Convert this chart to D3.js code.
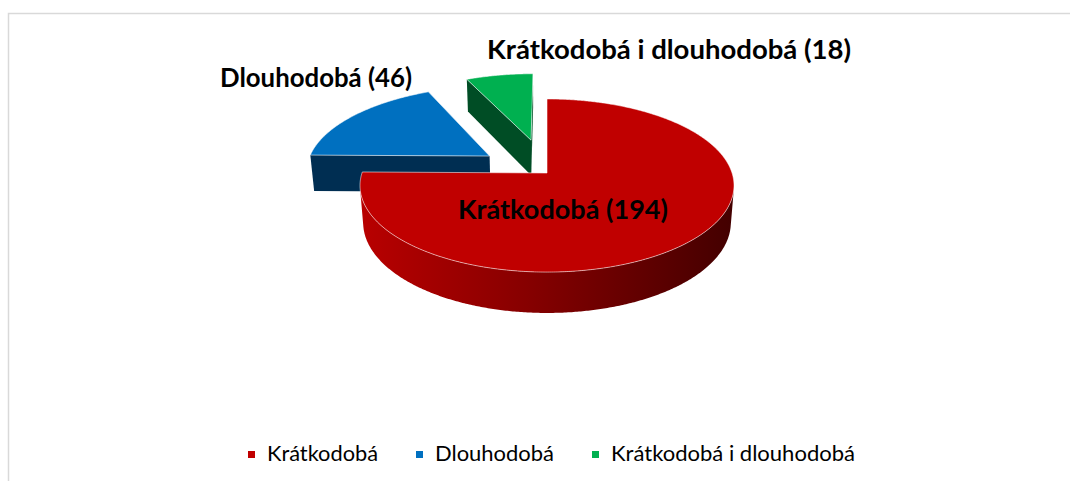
<!DOCTYPE html>
<html>
<head>
<meta charset="utf-8">
<script src="https://cdnjs.cloudflare.com/ajax/libs/d3/7.8.5/d3.min.js"></script>
<style>
  body { margin: 0; background: #fff; }
  svg { display: block; }
  .label { font-family: Lato, "Noto Sans", sans-serif; font-weight: bold; fill: #000; }
  .legend text { font-family: Lato, "Noto Sans", sans-serif; fill: #000; }
</style>
</head>
<body>
<svg id="chart"></svg>
<script>
const categories = ["Krátkodobá", "Dlouhodobá", "Krátkodobá i dlouhodobá"];
const values = [194, 46, 18];

const topColors = ["#C00000", "#0070C0", "#00B050"];
const sideColors = ["url(#redSide)", "#002E52", "#004D25"];
const explode = [0, 0.38, 0.42]; // per slice, in radius units

const W = 1070, H = 481;

let svg = d3.select("#chart").attr("width", W).attr("height", H);

// frame
svg.append("rect")
  .attr("x", 8.5).attr("y", 13.5)
  .attr("width", W + 20).attr("height", H + 20)
  .attr("fill", "none").attr("stroke", "#d9d9d9").attr("stroke-width", 1.5);

let defs = svg.append("defs");
let grad = defs.append("linearGradient").attr("id", "redSide")
  .attr("gradientUnits", "userSpaceOnUse")
  .attr("x1", 362).attr("x2", 731).attr("y1", 0).attr("y2", 0);
grad.append("stop").attr("offset", "0%").attr("stop-color", "#B80000");
grad.append("stop").attr("offset", "45%").attr("stop-color", "#860000");
grad.append("stop").attr("offset", "100%").attr("stop-color", "#440000");

// simple perspective camera looking down on the pie
const cx = 547, cy = 173;
const focal = 1138, dist = 6.15, thick = 0.227;
const sinT = 0.458, cosT = Math.sqrt(1 - sinT * sinT);
const cam = [0, dist * sinT, dist * cosT];

function project(p) {
  const depth = dist - p[1] * sinT - p[2] * cosT;
  return [cx + focal * p[0] / depth, cy - focal * (p[1] * cosT - p[2] * sinT) / depth];
}

function rim(a, t, y) { return [a.ox + Math.sin(t), y, a.oz - Math.cos(t)]; }

function sampleAngles(t0, t1) {
  const n = Math.max(2, Math.ceil(Math.abs(t1 - t0) / (Math.PI / 360)));
  return d3.range(n + 1).map(k => t0 + (t1 - t0) * k / n);
}

function facing(n, p) {
  return n[0] * (cam[0] - p[0]) + n[1] * (cam[1] - p[1]) + n[2] * (cam[2] - p[2]) > 0;
}

let line = d3.line();
let pathOf = (pts) => line(pts.map(project)) + "Z";

let pie = d3.pie().sort(null).value(d => d);
let arcs = pie(values);

arcs.forEach((a, i) => {
  const mid = (a.startAngle + a.endAngle) / 2;
  a.i = i;
  a.ox = explode[i] * Math.sin(mid);
  a.oz = -explode[i] * Math.cos(mid);
  a.z = a.oz - 0.5 * Math.cos(mid);
});

let order = arcs.slice().sort((a, b) => a.z - b.z); // back to front

let pieG = svg.append("g");

order.forEach(a => {
  let g = pieG.append("g");
  const a0 = a.startAngle, a1 = a.endAngle;
  const apexT = [a.ox, 0, a.oz], apexB = [a.ox, -thick, a.oz];

  // outer curved side, only where it faces the camera
  let runs = [], cur = null;
  sampleAngles(a0, a1).forEach(t => {
    const n = [Math.sin(t), 0, -Math.cos(t)];
    if (facing(n, rim(a, t, -thick / 2))) {
      if (!cur) { cur = []; runs.push(cur); }
      cur.push(t);
    } else cur = null;
  });
  runs.forEach(r => {
    if (r.length < 2) return;
    const pts = r.map(t => rim(a, t, 0)).concat(r.slice().reverse().map(t => rim(a, t, -thick)));
    g.append("path").attr("d", pathOf(pts)).attr("fill", sideColors[a.i]);
  });

  // radial sides
  [[a0, [-Math.cos(a0), 0, -Math.sin(a0)]], [a1, [Math.cos(a1), 0, Math.sin(a1)]]].forEach(([t, n]) => {
    const m = [a.ox + 0.5 * Math.sin(t), -thick / 2, a.oz - 0.5 * Math.cos(t)];
    if (!facing(n, m)) return;
    g.append("path")
      .attr("d", pathOf([apexT, rim(a, t, 0), rim(a, t, -thick), apexB]))
      .attr("fill", a.i === 0 ? "#7A0000" : sideColors[a.i]);
  });

  // top face
  const topPts = [apexT].concat(sampleAngles(a0, a1).map(t => rim(a, t, 0)));
  g.append("path").attr("d", pathOf(topPts))
    .attr("fill", topColors[a.i])
    .attr("stroke", "rgba(255,255,255,0.55)").attr("stroke-width", 1)
    .attr("stroke-linejoin", "round");
});

// data labels
const labelPos = [[563, 219], [316, 87], [669, 59]];
const labelWidth = [210, 192, 364];
svg.append("g").selectAll("text")
  .data(arcs)
  .join("text")
  .attr("class", "label")
  .attr("x", d => labelPos[d.i][0])
  .attr("y", d => labelPos[d.i][1])
  .attr("text-anchor", "middle")
  .attr("font-size", 26)
  .attr("textLength", d => labelWidth[d.i])
  .attr("lengthAdjust", "spacingAndGlyphs")
  .text(d => categories[d.i] + " (" + values[d.i] + ")");

// legend
const legendX = [248, 416, 592];
const legendWidth = [111, 119, 244];
let legend = svg.append("g").attr("class", "legend");
categories.forEach((c, i) => {
  legend.append("rect")
    .attr("x", legendX[i]).attr("y", 451)
    .attr("width", 7).attr("height", 7)
    .attr("fill", topColors[i]);
  legend.append("text")
    .attr("x", legendX[i] + 19).attr("y", 461)
    .attr("font-size", 21)
    .attr("textLength", legendWidth[i])
    .attr("lengthAdjust", "spacingAndGlyphs")
    .text(c);
});
</script>
</body>
</html>
